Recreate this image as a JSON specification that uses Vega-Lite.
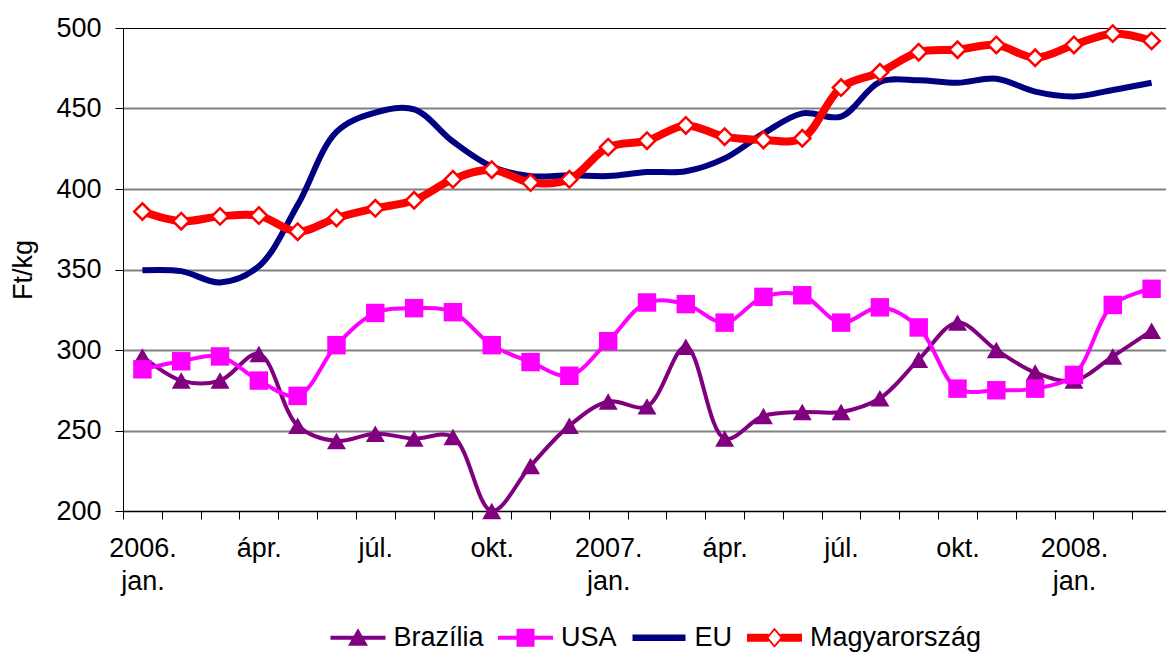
{
  "$schema": "https://vega.github.io/schema/vega-lite/v6.json",
  "width": 1048,
  "height": 483,
  "autosize": {"type": "none"},
  "padding": {"left": 123, "top": 28, "right": 0, "bottom": 141},
  "background": "white",
  "config": {
    "font": "Liberation Sans",
    "view": {"stroke": null},
    "axis": {"labelColor": "black", "titleColor": "black", "domainColor": "black", "tickColor": "black"}
  },
  "data": {
    "values": [
      {"month": "2006-01", "Brazília": 296, "USA": 288, "EU": 349.5, "Magyarország": 386},
      {"month": "2006-02", "Brazília": 281, "USA": 293, "EU": 349, "Magyarország": 380},
      {"month": "2006-03", "Brazília": 281, "USA": 296, "EU": 342, "Magyarország": 383},
      {"month": "2006-04", "Brazília": 297.5, "USA": 281, "EU": 352, "Magyarország": 383.5},
      {"month": "2006-05", "Brazília": 253, "USA": 271.5, "EU": 390, "Magyarország": 373.5},
      {"month": "2006-06", "Brazília": 243.5, "USA": 303, "EU": 435.5, "Magyarország": 382},
      {"month": "2006-07", "Brazília": 248, "USA": 323, "EU": 447.5, "Magyarország": 388},
      {"month": "2006-08", "Brazília": 245, "USA": 326, "EU": 449.5, "Magyarország": 393},
      {"month": "2006-09", "Brazília": 246, "USA": 323.5, "EU": 429.5, "Magyarország": 406},
      {"month": "2006-10", "Brazília": 200, "USA": 303, "EU": 414, "Magyarország": 412},
      {"month": "2006-11", "Brazília": 228, "USA": 292.5, "EU": 408, "Magyarország": 404},
      {"month": "2006-12", "Brazília": 253, "USA": 284, "EU": 408.5, "Magyarország": 406},
      {"month": "2007-01", "Brazília": 268, "USA": 305.5, "EU": 408, "Magyarország": 426},
      {"month": "2007-02", "Brazília": 265, "USA": 329.5, "EU": 410.5, "Magyarország": 430},
      {"month": "2007-03", "Brazília": 302, "USA": 328.5, "EU": 411, "Magyarország": 439.5},
      {"month": "2007-04", "Brazília": 245, "USA": 317, "EU": 419, "Magyarország": 432.5},
      {"month": "2007-05", "Brazília": 259, "USA": 333, "EU": 434.5, "Magyarország": 430.5},
      {"month": "2007-06", "Brazília": 261.5, "USA": 334, "EU": 447, "Magyarország": 431.5},
      {"month": "2007-07", "Brazília": 261.5, "USA": 317, "EU": 445, "Magyarország": 463},
      {"month": "2007-08", "Brazília": 270, "USA": 326.5, "EU": 466.5, "Magyarország": 472.5},
      {"month": "2007-09", "Brazília": 294, "USA": 314, "EU": 467.5, "Magyarország": 485},
      {"month": "2007-10", "Brazília": 317, "USA": 276, "EU": 466, "Magyarország": 486.5},
      {"month": "2007-11", "Brazília": 300, "USA": 275, "EU": 468.5, "Magyarország": 489.5},
      {"month": "2007-12", "Brazília": 286, "USA": 276, "EU": 460.5, "Magyarország": 481.5},
      {"month": "2008-01", "Brazília": 281, "USA": 284.5, "EU": 457.5, "Magyarország": 489.5},
      {"month": "2008-02", "Brazília": 296, "USA": 328, "EU": 461.5, "Magyarország": 496.5},
      {"month": "2008-03", "Brazília": 312, "USA": 338, "EU": 466, "Magyarország": 492}
    ]
  },
  "transform": [
    {"fold": ["Brazília", "USA", "EU", "Magyarország"], "as": ["series", "value"]}
  ],
  "encoding": {
    "x": {
      "field": "month",
      "type": "ordinal",
      "scale": {"type": "point", "padding": 0.5},
      "axis": {
        "title": null,
        "grid": false,
        "tickOffset": -19.41,
        "labelOffset": 19.41,
        "tickSize": 8,
        "labelFontSize": 27,
        "labelPadding": 16,
        "labelLineHeight": 33,
        "labelOverlap": false,
        "labelBound": false,
        "labelAngle": 0,
        "labelExpr": "substring(datum.label,5,7) == '01' ? [substring(datum.label,0,4) + '.', 'jan.'] : substring(datum.label,5,7) == '04' ? 'ápr.' : substring(datum.label,5,7) == '07' ? 'júl.' : substring(datum.label,5,7) == '10' ? 'okt.' : ''"
      }
    },
    "y": {
      "field": "value",
      "type": "quantitative",
      "scale": {"domain": [200, 500], "nice": false, "zero": false},
      "axis": {
        "title": "Ft/kg",
        "values": [200, 250, 300, 350, 400, 450, 500],
        "grid": true,
        "gridColor": {"condition": {"test": "datum.value == 500", "value": "black"}, "value": "#808080"},
        "gridWidth": {"condition": {"test": "datum.value == 500", "value": 1}, "value": 2},
        "tickSize": 8,
        "labelFontSize": 27,
        "labelPadding": 14,
        "titleFontSize": 27,
        "titleFontWeight": "normal",
        "titlePadding": 18
      }
    }
  },
  "layer": [
    {
      "transform": [{"filter": "datum.series == 'Brazília'"}],
      "mark": {"type": "line", "interpolate": "catmull-rom", "color": "#800080", "strokeWidth": 4}
    },
    {
      "transform": [{"filter": "datum.series == 'USA'"}],
      "mark": {"type": "line", "interpolate": "catmull-rom", "color": "#FF00FF", "strokeWidth": 4}
    },
    {
      "transform": [{"filter": "datum.series == 'EU'"}],
      "mark": {"type": "line", "interpolate": "catmull-rom", "color": "#000080", "strokeWidth": 6}
    },
    {
      "transform": [{"filter": "datum.series == 'Magyarország'"}],
      "mark": {"type": "line", "interpolate": "catmull-rom", "color": "#FF0000", "strokeWidth": 8}
    },
    {
      "transform": [{"filter": "datum.series == 'Brazília'"}],
      "mark": {"type": "point", "shape": "triangle-up", "filled": true, "color": "#800080", "size": 360, "opacity": 1}
    },
    {
      "transform": [{"filter": "datum.series == 'USA'"}],
      "mark": {"type": "point", "shape": "square", "filled": true, "color": "#FF00FF", "size": 340, "opacity": 1}
    },
    {
      "transform": [{"filter": "datum.series == 'Magyarország'"}],
      "mark": {"type": "point", "shape": "diamond", "filled": true, "fill": "white", "stroke": "#FF0000", "strokeWidth": 2.5, "size": 270, "opacity": 1}
    },
    {
      "mark": {"type": "point", "filled": true, "size": 100, "opacity": 0},
      "encoding": {
        "shape": {
          "field": "series",
          "type": "nominal",
          "scale": {
            "domain": ["Brazília", "USA", "EU", "Magyarország"],
            "range": [
              "M-5.5,-0.4H5.5V0.4H-5.5Z M0,-1.9L2,1.6H-2Z",
              "M-5.5,-0.4H5.5V0.4H-5.5Z M-1.8,-1.8H1.8V1.8H-1.8Z",
              "M-5.3,-0.65H5.3V0.65H-5.3Z",
              "M-5.5,-0.8H-1.2V0.8H-5.5Z M1.2,-0.8H5.5V0.8H1.2Z M0,-2L1.7,0L0,2L-1.7,0Z M0,-1.45L-1.2,0L0,1.45L1.2,0Z"
            ]
          },
          "legend": {
            "title": null,
            "orient": "none",
            "legendX": 199,
            "legendY": 596,
            "direction": "horizontal",
            "symbolSize": 100,
            "symbolOpacity": 1,
            "symbolStrokeWidth": 0,
            "symbolOffset": 22.5,
            "labelFontSize": 27,
            "labelColor": "black",
            "labelOffset": 22,
            "labelLimit": 400,
            "columnPadding": 5.5
          }
        },
        "color": {
          "field": "series",
          "type": "nominal",
          "scale": {"domain": ["Brazília", "USA", "EU", "Magyarország"], "range": ["#800080", "#FF00FF", "#000080", "#FF0000"]},
          "legend": {
            "title": null,
            "orient": "none",
            "legendX": 199,
            "legendY": 596,
            "direction": "horizontal",
            "symbolSize": 100,
            "symbolOpacity": 1,
            "symbolStrokeWidth": 0,
            "symbolOffset": 22.5,
            "labelFontSize": 27,
            "labelColor": "black",
            "labelOffset": 22,
            "labelLimit": 400,
            "columnPadding": 5.5
          }
        }
      }
    }
  ]
}
